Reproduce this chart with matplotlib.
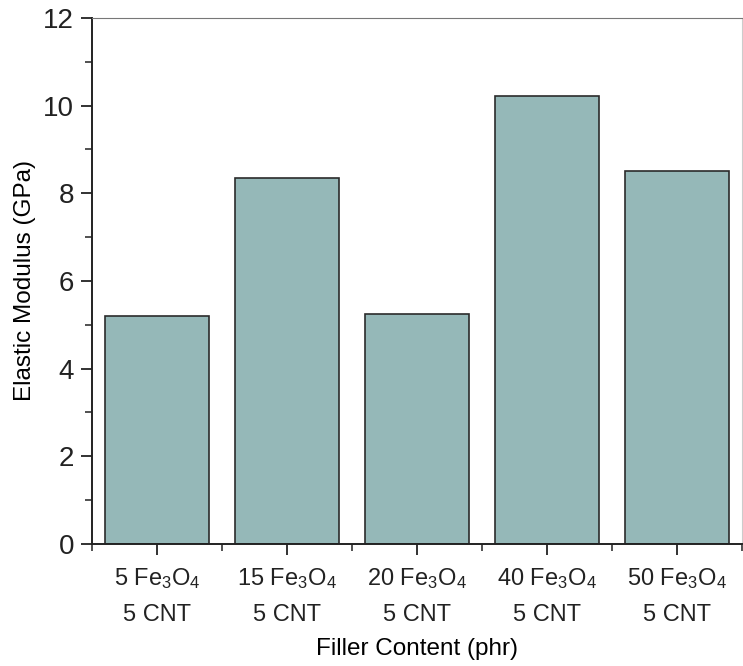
import numpy as np
import matplotlib
matplotlib.use("Agg")
import matplotlib.pyplot as plt
from matplotlib.ticker import MultipleLocator, FixedLocator

plt.rcParams['font.family'] = ['Liberation Sans', 'DejaVu Sans']
plt.rcParams['mathtext.fontset'] = 'custom'
plt.rcParams['mathtext.rm'] = 'Liberation Sans'
plt.rcParams['mathtext.it'] = 'Liberation Sans'

# elastic modulus per filler loading
fe3o4_phr = [5, 15, 20, 40, 50]
cnt_phr = [5, 5, 5, 5, 5]
modulus = [5.20, 8.35, 5.25, 10.22, 8.51]

labels = ['%d Fe$_3$O$_4$\n%d CNT' % (f, c) for f, c in zip(fe3o4_phr, cnt_phr)]
x = np.arange(1, len(modulus) + 1)

fig = plt.figure(figsize=(7.43, 6.66), dpi=100)
ax = fig.add_axes([0.1238, 0.1832, 0.8752, 0.7898])

ax.bar(x, modulus, width=0.8, color='#95b8b8', edgecolor='#2b2b2b', linewidth=1.2)

ax.set_xlim(0.5, 5.5)
ax.set_ylim(0, 12)
ax.set_xticks(x)
ax.set_xticklabels(labels, fontsize=17, linespacing=1.75)
ax.xaxis.set_minor_locator(FixedLocator(np.arange(0.5, 6.0, 1.0)))
ax.yaxis.set_major_locator(MultipleLocator(2))
ax.yaxis.set_minor_locator(MultipleLocator(1))

ax.tick_params(axis='both', which='major', direction='out', length=8, width=1.3, colors='#222222')
ax.tick_params(axis='both', which='minor', direction='out', length=5, width=1.1, colors='#222222')
ax.tick_params(axis='y', labelsize=20, pad=5)
ax.tick_params(axis='x', pad=8)

for side in ['left', 'bottom']:
    ax.spines[side].set_linewidth(1.4)
    ax.spines[side].set_color('#222222')
ax.spines['top'].set_linewidth(0.8)
ax.spines['top'].set_color('#777777')
ax.spines['right'].set_linewidth(0.8)
ax.spines['right'].set_color('#cccccc')

ax.set_ylabel('Elastic Modulus (GPa)', fontsize=17.5, labelpad=5)
ax.set_xlabel('Filler Content (phr)', fontsize=17.5, labelpad=9)

fig.savefig('out.png', dpi=100)
